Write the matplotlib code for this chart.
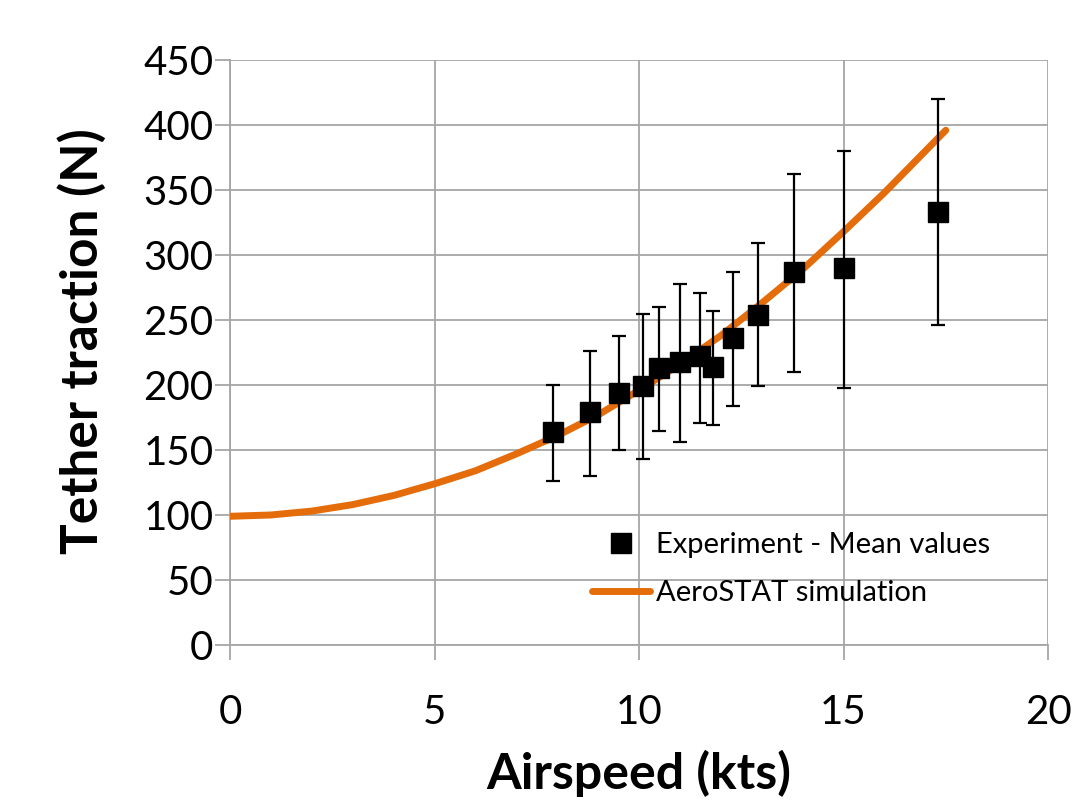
"""Tether traction vs airspeed: experiment means with error bars and AeroSTAT simulation."""
import numpy as np
import matplotlib
matplotlib.use("Agg")
import matplotlib.pyplot as plt

# experiment
exp_speed = [7.9, 8.8, 9.5, 10.1, 10.5, 11.0, 11.5, 11.8, 12.3, 12.9, 13.8, 15.0, 17.3]
exp_mean = [164, 179, 194, 199, 213, 218, 222, 214, 236, 254, 287, 290, 333]
exp_hi = [200, 226, 238, 255, 260, 278, 271, 257, 287, 309, 362, 380, 420]
exp_lo = [126, 130, 150, 143, 165, 156, 171, 169, 184, 199, 210, 198, 246]

# simulation curve
sim_speed = [0, 1, 2, 3, 4, 5, 6, 7, 8, 9, 10, 11, 12, 13, 14, 15, 16, 17, 17.5]
sim_force = [99, 100, 103, 108, 115, 124, 134, 147, 161, 177, 196, 216, 238, 263, 289, 318, 348, 380, 396]

FONT = "Lato"
ORANGE = "#E46C0A"
GRID = "#a6a6a6"

plt.rcParams["font.family"] = [FONT, "DejaVu Sans"]

fig = plt.figure(figsize=(10.76, 8.01), dpi=100)
ax = fig.add_axes([0.2138, 0.1948, 0.974 - 0.2138, 0.925 - 0.1948])

ax.plot(sim_speed, sim_force, color=ORANGE, lw=5, solid_capstyle="round",
        solid_joinstyle="round", zorder=3, label="AeroSTAT simulation")

mean = np.array(exp_mean)
yerr = [mean - np.array(exp_lo), np.array(exp_hi) - mean]
ax.errorbar(exp_speed, exp_mean, yerr=yerr, fmt="none", ecolor="black",
            elinewidth=1.6, capsize=5, capthick=1.6, zorder=4)
ax.plot(exp_speed, exp_mean, ls="none", marker="s", ms=15, color="black",
        zorder=5, label="Experiment - Mean values")

ax.set_xlim(0, 20)
ax.set_ylim(0, 450)
ax.set_xticks(range(0, 21, 5))
ax.set_yticks(range(0, 451, 50))
ax.grid(True, color=GRID, lw=1.3)
ax.set_axisbelow(True)
for s in ["top", "right"]:
    ax.spines[s].set_visible(False)
for s in ["left", "bottom"]:
    ax.spines[s].set_color(GRID)
    ax.spines[s].set_linewidth(1.3)
ax.tick_params(axis="both", direction="out", length=11, width=1.3,
               color=GRID, labelsize=29)
ax.tick_params(axis="y", pad=1)
ax.tick_params(axis="x", pad=24)

ax.set_xlabel("Airspeed (kts)", fontsize=36, fontweight="bold", labelpad=14)
ax.set_ylabel("Tether traction (N)", fontsize=37, fontweight="bold", labelpad=26)
ax.yaxis.label.set_y(0.52)

h, l = ax.get_legend_handles_labels()
ax.legend(h[::-1], l[::-1], loc="lower left", bbox_to_anchor=(0.41, 0.022),
          frameon=False, fontsize=21, handlelength=2.0, handletextpad=0.2,
          labelspacing=0.75)

fig.savefig("out.png", dpi=100)
